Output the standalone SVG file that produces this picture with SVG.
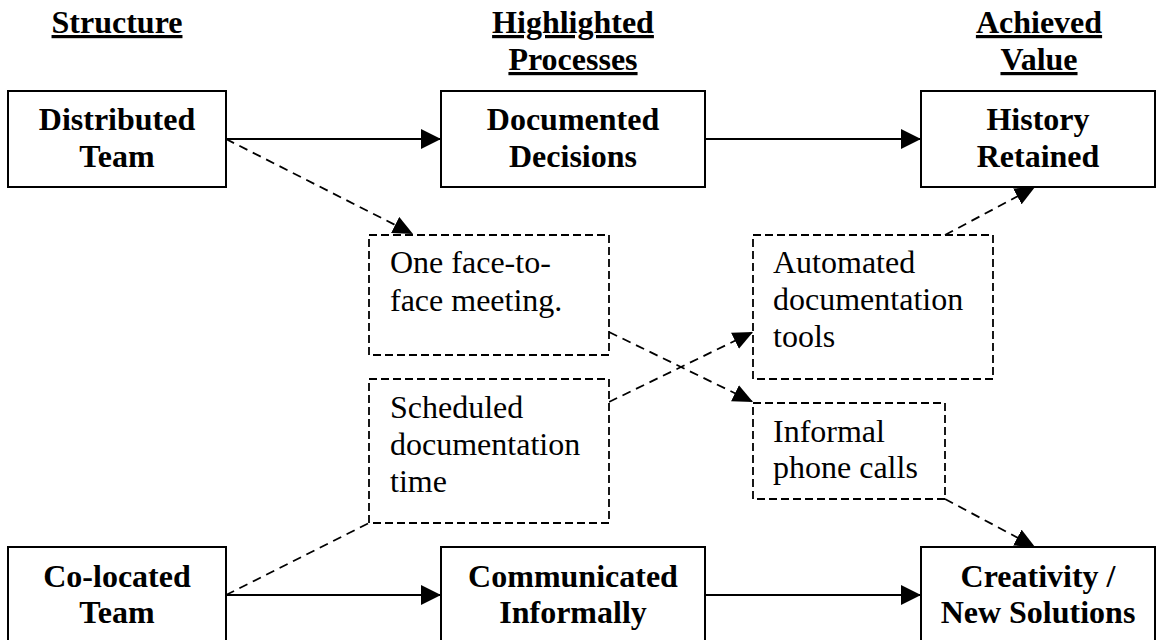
<svg xmlns="http://www.w3.org/2000/svg" width="1156" height="640" viewBox="0 0 1156 640">
  <style>
    text { font-family: "Liberation Serif", "Times New Roman", serif; font-size: 32px; fill: #000; }
    .hdr { font-weight: bold; text-anchor: middle; text-decoration: underline; }
    .main rect { fill: #fff; stroke: #000; stroke-width: 2; }
    .main text { font-weight: bold; text-anchor: middle; }
    .aux rect { fill: #fff; stroke: #000; stroke-width: 1.8; stroke-dasharray: 8 4; }
    .solid { stroke: #000; stroke-width: 2; fill: none; marker-end: url(#head); }
    .dash { stroke: #000; stroke-width: 1.8; fill: none; stroke-dasharray: 9 6; }
    .dash.arrow { marker-end: url(#headd); }
  </style>
  <defs>
    <marker id="head" viewBox="0 0 10 10" refX="10" refY="5" markerUnits="userSpaceOnUse" markerWidth="20" markerHeight="20" orient="auto">
      <path d="M0,0 L10,5 L0,10 z" fill="#000"/>
    </marker>
    <marker id="headd" viewBox="0 0 10 10" refX="10" refY="5" markerUnits="userSpaceOnUse" markerWidth="20" markerHeight="18" orient="auto" preserveAspectRatio="none">
      <path d="M0,0 L10,5 L0,10 z" fill="#000"/>
    </marker>
  </defs>

  <!-- column headings -->
  <g id="headings">
    <text class="hdr" x="117" y="33">Structure</text>
    <text class="hdr" x="573" y="33">Highlighted</text>
    <text class="hdr" x="573" y="70">Processes</text>
    <text class="hdr" x="1039" y="33">Achieved</text>
    <text class="hdr" x="1039" y="70">Value</text>
  </g>

  <!-- connectors -->
  <g id="connectors">
    <line class="solid" x1="226" y1="139" x2="441" y2="139"/>
    <line class="solid" x1="705" y1="139" x2="921" y2="139"/>
    <line class="solid" x1="226" y1="595" x2="441" y2="595"/>
    <line class="solid" x1="705" y1="595" x2="921" y2="595"/>
    <line class="dash arrow" x1="226" y1="139" x2="413" y2="234"/>
    <line class="dash arrow" x1="609" y1="332" x2="753" y2="402"/>
    <line class="dash arrow" x1="609" y1="402" x2="753" y2="332"/>
    <line class="dash arrow" x1="945" y1="235" x2="1035" y2="187"/>
    <line class="dash arrow" x1="945" y1="499" x2="1035" y2="547"/>
    <line class="dash" x1="226" y1="595" x2="369" y2="523"/>
  </g>

  <!-- main nodes -->
  <g id="distributed-team" class="main">
    <rect x="8" y="91" width="218" height="96"/>
    <text x="117" y="130">Distributed</text>
    <text x="117" y="167">Team</text>
  </g>
  <g id="documented-decisions" class="main">
    <rect x="441" y="91" width="264" height="96"/>
    <text x="573" y="130">Documented</text>
    <text x="573" y="167">Decisions</text>
  </g>
  <g id="history-retained" class="main">
    <rect x="921" y="91" width="234" height="96"/>
    <text x="1038" y="130">History</text>
    <text x="1038" y="167">Retained</text>
  </g>
  <g id="co-located-team" class="main">
    <rect x="8" y="547" width="218" height="100"/>
    <text x="117" y="587">Co-located</text>
    <text x="117" y="623">Team</text>
  </g>
  <g id="communicated-informally" class="main">
    <rect x="441" y="547" width="264" height="100"/>
    <text x="573" y="587">Communicated</text>
    <text x="573" y="623">Informally</text>
  </g>
  <g id="creativity" class="main">
    <rect x="921" y="547" width="234" height="100"/>
    <text x="1038" y="587">Creativity /</text>
    <text x="1038" y="623">New Solutions</text>
  </g>

  <!-- mediating practices -->
  <g id="face-to-face" class="aux">
    <rect x="369" y="235" width="240" height="120"/>
    <text x="390" y="273">One face-to-</text>
    <text x="390" y="311">face meeting.</text>
  </g>
  <g id="scheduled-doc" class="aux">
    <rect x="369" y="379" width="240" height="144"/>
    <text x="390" y="418">Scheduled</text>
    <text x="390" y="455">documentation</text>
    <text x="390" y="492">time</text>
  </g>
  <g id="automated-doc" class="aux">
    <rect x="753" y="235" width="240" height="144"/>
    <text x="773" y="273">Automated</text>
    <text x="773" y="310">documentation</text>
    <text x="773" y="347">tools</text>
  </g>
  <g id="phone-calls" class="aux">
    <rect x="753" y="403" width="192" height="96"/>
    <text x="773" y="442">Informal</text>
    <text x="773" y="478">phone calls</text>
  </g>
</svg>
